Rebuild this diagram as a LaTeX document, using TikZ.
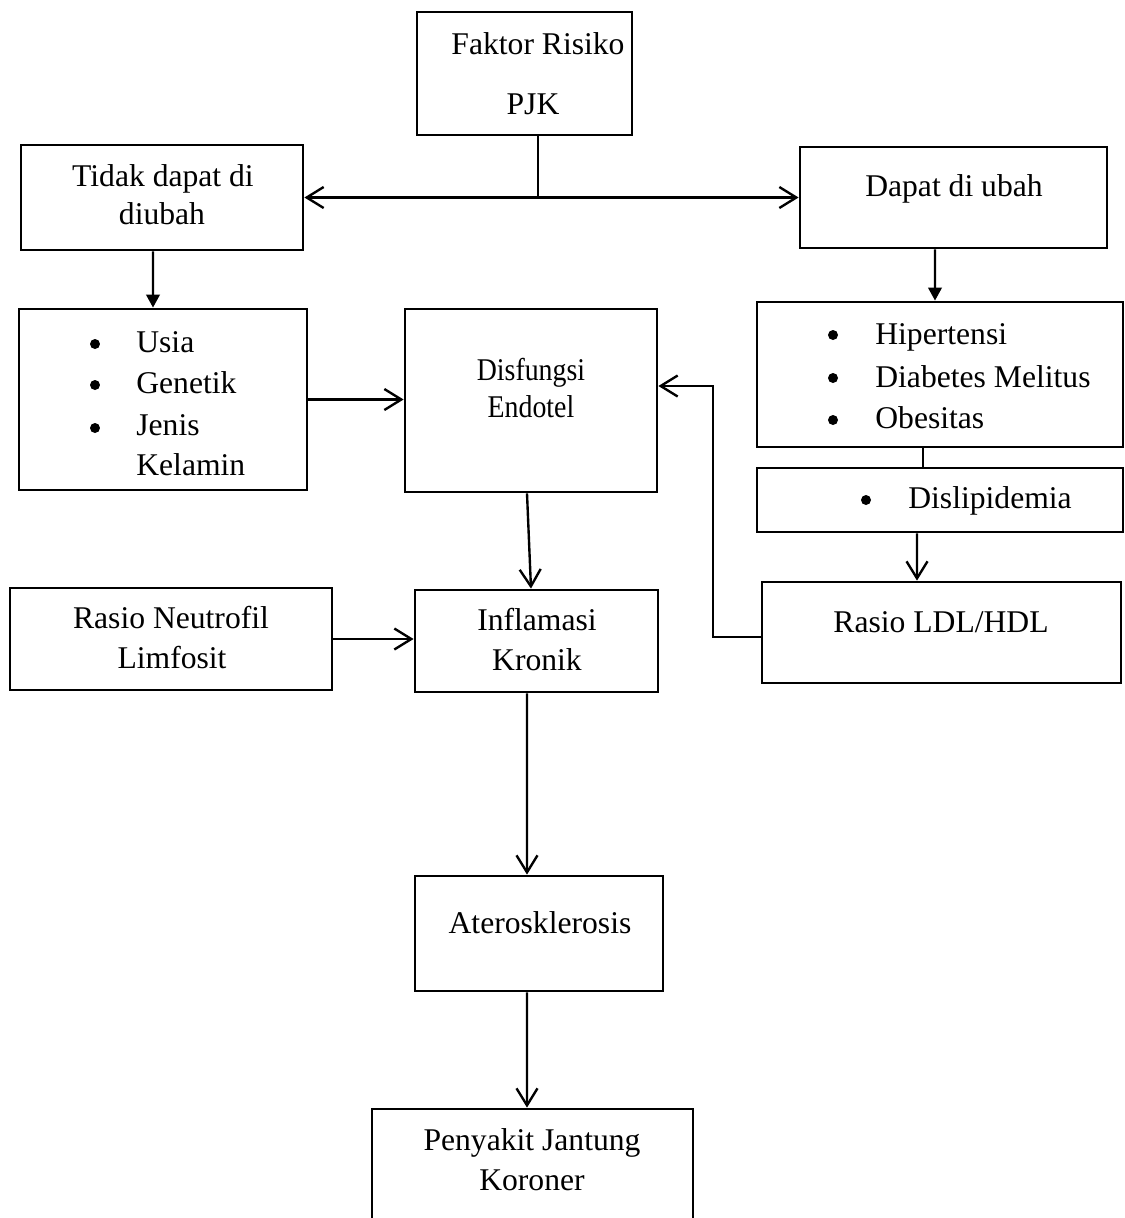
\documentclass[tikz,border=0pt]{standalone}
\usepackage{fontspec}
\setmainfont{Liberation Serif}
\usetikzlibrary{arrows.meta}

\begin{document}
\begin{tikzpicture}[x=0.02cm, y=-0.02cm,
  kotak/.style 2 args={draw, line width=1.6pt, inner sep=0pt, minimum width=#1*0.02cm, minimum height=#2*0.02cm},
  teks/.style={anchor=base, inner sep=0pt, font=\fontsize{18}{22}\selectfont},
  kiri/.style={teks, anchor=base west},
  titik/.style={circle, fill, inner sep=0pt, minimum size=0.2cm},
  garis/.style={line width=1.35pt},
  >={Straight Barb[length=0.34cm, width=0.42cm]},
  segitiga/.style={garis, -{Triangle[length=0.26cm, width=0.27cm]}}]
  \useasboundingbox (0,0) rectangle (1125,1218);

  \node[kotak={215}{123}] (faktor) at (524.5,73.5) {};
  \node[kotak={282}{105}] (tidak) at (162,197.5) {};
  \node[kotak={307}{101}] (dapat) at (953.5,197.5) {};
  \node[kotak={288}{181}] (usia) at (163,399.5) {};
  \node[kotak={252}{183}] (disf) at (531,400.5) {};
  \node[kotak={366}{145}] (hiper) at (940,374.5) {};
  \node[kotak={366}{64}] (dislip) at (940,500) {};
  \node[kotak={359}{101}] (ldl) at (941.5,632.5) {};
  \node[kotak={322}{102}] (neutro) at (171,639) {};
  \node[kotak={243}{102}] (infl) at (536.5,641) {};
  \node[kotak={248}{115}] (ater) at (539,933.5) {};
  \node[kotak={321}{141}] (pjk) at (532.5,1179.5) {};

  \node[teks] (tfaktor) at (538,54) {Faktor Risiko};
  \node[teks] (tpjk) at (533,114) {PJK};
  \node[teks] (ttidak) at (163,186) {Tidak dapat di};
  \node[teks] (tdiubah) at (162,224) {diubah};
  \node[teks] (tdapat) at (954,196) {Dapat di ubah};

  \node[titik] (bu1) at (95,344) {};
  \node[kiri] (tusia) at (136,352) {Usia};
  \node[titik] (bu2) at (95,385) {};
  \node[kiri] (tgenetik) at (136,393) {Genetik};
  \node[titik] (bu3) at (95,428) {};
  \node[kiri] (tjenis) at (136,435) {Jenis};
  \node[kiri] (tkelamin) at (136,475) {Kelamin};

  \node[teks] (tdisf) at (531,380) {\scalebox{0.88}[1]{Disfungsi}};
  \node[teks] (tendotel) at (531,417) {\scalebox{0.88}[1]{Endotel}};

  \node[titik] (bh1) at (833,335) {};
  \node[kiri] (thiper) at (875,344) {Hipertensi};
  \node[titik] (bh2) at (833,378) {};
  \node[kiri] (tdiabetes) at (875,387) {Diabetes Melitus};
  \node[titik] (bh3) at (833,420) {};
  \node[kiri] (tobesitas) at (875,428) {Obesitas};
  \node[titik] (bd1) at (866,500) {};
  \node[kiri] (tdislip) at (908,508) {Dislipidemia};

  \node[teks] (tldl) at (941,632) {Rasio LDL/HDL};
  \node[teks] (tneutro) at (171,628) {Rasio Neutrofil};
  \node[teks] (tlimfosit) at (172,668) {Limfosit};
  \node[teks] (tinfl) at (537,630) {Inflamasi};
  \node[teks] (tkronik) at (537,670) {Kronik};
  \node[teks] (tater) at (540,933) {Aterosklerosis};
  \node[teks] (tpenyakit) at (532,1150) {Penyakit Jantung};
  \node[teks] (tkoroner) at (532,1190) {Koroner};

  \coordinate (cabang) at (538,199);
  \coordinate (belok) at (713,386);
  \draw[garis] (faktor.south -| cabang) -- (cabang);
  \draw[garis, <->] (tidak.east) -- (dapat.west);
  \draw[segitiga] ([xshift=-0.18cm]tidak.south) -- ([xshift=-0.2cm]usia.north);
  \draw[segitiga] ([xshift=-0.37cm]dapat.south) -- ([xshift=-0.1cm]hiper.north);
  \draw[garis, ->] (usia.east) -- (usia.east -| disf.west);
  \draw[garis] ([xshift=-0.34cm]hiper.south) -- ([xshift=-0.34cm]dislip.north);
  \draw[garis, ->] ([xshift=-0.46cm]dislip.south) -- ([xshift=-0.49cm]ldl.north);
  \draw[garis, ->] ([yshift=-0.09cm]ldl.west) -| (belok) -- (belok -| disf.east);
  \draw[garis, ->] ([xshift=-0.08cm]disf.south) -- ([xshift=-0.11cm]infl.north);
  \draw[garis, ->] (neutro.east) -- (neutro.east -| infl.west);
  \draw[garis, ->] ([xshift=-0.19cm]infl.south) -- ([xshift=-0.24cm]ater.north);
  \draw[garis, ->] ([xshift=-0.24cm]ater.south) -- ([xshift=-0.11cm]pjk.north);
\end{tikzpicture}
\end{document}
